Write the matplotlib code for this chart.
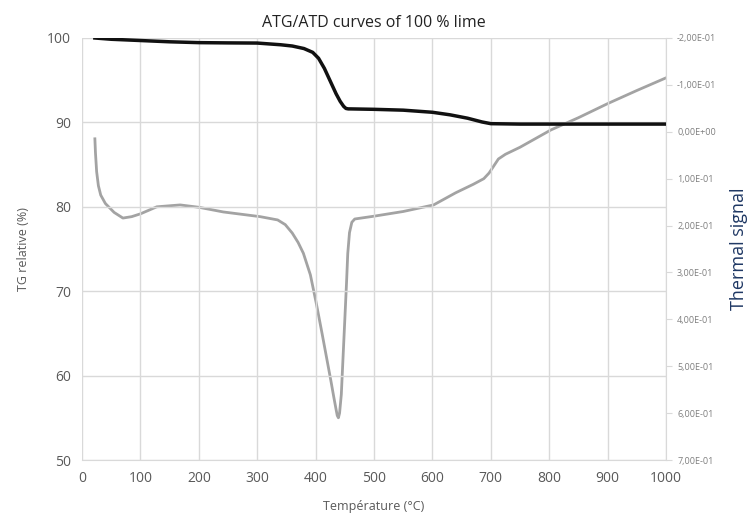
import matplotlib.pyplot as plt
from matplotlib.ticker import FuncFormatter

# courbe TG (axe de gauche)
temp_tg = [22, 50, 100, 150, 200, 250, 300, 340, 360, 380, 395, 405, 415, 425, 435, 442, 448, 452,
           456, 460, 500, 550, 600, 630, 660, 685, 700, 750, 800, 900, 1000]
tg = [100, 99.85, 99.7, 99.55, 99.45, 99.42, 99.4, 99.2, 99.05, 98.75, 98.3, 97.6, 96.4, 94.9, 93.4,
      92.5, 91.9, 91.65, 91.6, 91.6, 91.55, 91.45, 91.2, 90.9, 90.5, 90.05, 89.85, 89.8, 89.8, 89.8, 89.8]

# signal thermique (axe de droite)
temp_atd = [22, 23, 25, 28, 32, 40, 55, 70, 85, 100, 128, 168, 200, 242, 305, 335, 348, 360, 370,
            379, 391, 401, 411, 420, 426, 431, 435, 437, 439, 441, 444, 447, 450, 453, 455, 458,
            462, 467, 500, 550, 602, 640, 670, 688, 697, 705, 713, 725, 750, 803, 850, 900, 950, 1000]
atd = [0.015, 0.045, 0.085, 0.115, 0.135, 0.153, 0.172, 0.184, 0.181, 0.175, 0.160, 0.156, 0.161,
       0.171, 0.181, 0.188, 0.198, 0.216, 0.236, 0.259, 0.305, 0.365, 0.43, 0.49, 0.53, 0.565,
       0.592, 0.605, 0.61, 0.60, 0.56, 0.48, 0.40, 0.32, 0.26, 0.215, 0.193, 0.186, 0.180, 0.170,
       0.156, 0.130, 0.112, 0.100, 0.088, 0.073, 0.058, 0.048, 0.033, -0.004, -0.030, -0.060,
       -0.088, -0.115]

plt.rcParams['font.family'] = ['Open Sans', 'DejaVu Sans']

fig = plt.figure(figsize=(7.54, 5.27), dpi=100)
ax = fig.add_axes([0.1088, 0.1271, 0.7745, 0.8008])
ax2 = ax.twinx()

ax.set_xlim(0, 1000)
ax.set_ylim(50, 100)
ax.set_xticks(range(0, 1001, 100))
ax.set_yticks(range(50, 101, 10))
ax.grid(True, color='#d9d9d9', linewidth=1)
ax.set_axisbelow(True)
ax.tick_params(axis='both', length=0, labelsize=10, colors='#595959', pad=8)
for s in ['top', 'right', 'left']:
    ax.spines[s].set_visible(False)
ax.spines['bottom'].set_color('#d9d9d9')

ax2.plot(temp_atd, atd, color='#a3a3a3', linewidth=2, solid_joinstyle='round')
ax.plot(temp_tg, tg, color='#111111', linewidth=2.5, zorder=5, solid_joinstyle='round')
ax.set_zorder(ax2.get_zorder() + 1)
ax.patch.set_visible(False)

ax2.set_ylim(0.7, -0.2)
ax2.set_yticks([-0.2 + 0.1 * i for i in range(10)])
ax2.yaxis.set_major_formatter(FuncFormatter(
    lambda v, p: ('%.2E' % (0.0 if abs(v) < 1e-9 else v)).replace('.', ',')))
ax2.tick_params(axis='y', length=4, color='#d9d9d9', labelsize=6.5, labelcolor='#7f7f7f', pad=4)
for s in ['top', 'left', 'bottom']:
    ax2.spines[s].set_visible(False)
ax2.spines['right'].set_color('#d9d9d9')

ax.set_xlabel('Température (°C)', fontsize=9, color='#595959', labelpad=10)
ax.set_ylabel('TG relative (%)', fontsize=9, color='#595959', labelpad=12)
ax2.set_ylabel('Thermal signal', fontsize=13, color='#1f3864', labelpad=10)
ax.set_title('ATG/ATD curves of 100 % lime', fontsize=11.5, color='#222222', pad=8)

fig.savefig('out.png', dpi=100)
